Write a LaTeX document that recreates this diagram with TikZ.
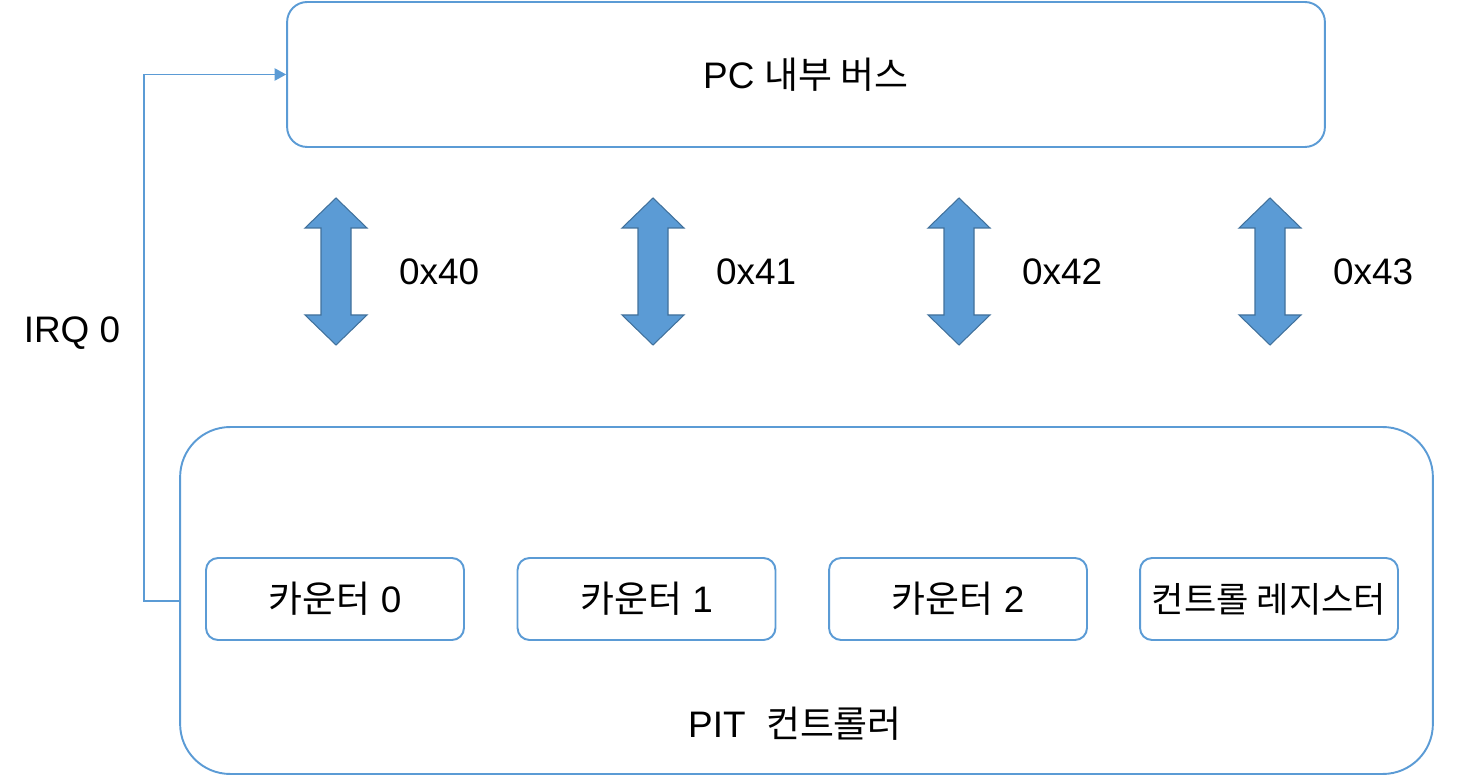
\documentclass[tikz,border=0pt]{standalone}
\usepackage{fontspec}
\setmainfont{Liberation Sans}
\newfontfamily\kr{Noto Sans CJK KR}
\usetikzlibrary{arrows.meta}
\definecolor{boxblue}{HTML}{5B9BD5}
\definecolor{edgeblue}{HTML}{41719C}

\tikzset{
  busbox/.style={draw=boxblue, line width=1.1pt, rounded corners=0.4cm, minimum width=20.76cm, minimum height=2.9cm},
  pitbox/.style={draw=boxblue, line width=1.1pt, rounded corners=1cm, minimum width=25.06cm, minimum height=6.94cm},
  cntbox/.style={draw=boxblue, line width=1.1pt, rounded corners=0.24cm, minimum width=5.16cm, minimum height=1.64cm, font=\fontsize{21}{25}\selectfont},
  lbl/.style={font=\fontsize{21}{25}\selectfont},
  busarrow/.pic={
    \filldraw[fill=boxblue, draw=edgeblue, line width=0.6pt, line join=miter]
      (0,-73.5) -- (31,-43.5) -- (15,-43.5) -- (15,43.5) -- (31,43.5) -- (0,73.5)
      -- (-31,43.5) -- (-15,43.5) -- (-15,-43.5) -- (-31,-43.5) -- cycle;
  }
}

\begin{document}
\begin{tikzpicture}[x=0.02cm, y=-0.02cm]
\useasboundingbox (0,0) rectangle (1480,776);

% bus and controller
\node[busbox, lbl] (bus) at (806,74.5) {PC {\kr 내부 버스}};
\node[pitbox] (pit) at (806.5,600.5) {};
\node[lbl] (pitname) at (795,724) {PIT\ \ {\kr 컨트롤러}};

% counters
\node[cntbox] (cnt0) at (335,599) {{\kr 카운터} 0};
\node[cntbox] (cnt1) at (646.5,599) {{\kr 카운터} 1};
\node[cntbox] (cnt2) at (958,599) {{\kr 카운터} 2};
\node[cntbox, font=\fontsize{20}{24}\selectfont\kr] (ctrl) at (1269,599) {컨트롤 레지스터};

% port arrows
\foreach \x/\port in {336/40, 653/41, 959/42, 1270/43} {
  \pic at (\x,271.5) {busarrow};
  \node[lbl, anchor=west] at (\x+57,272) {0x\port};
}

% interrupt line
\coordinate (irqbend) at (144,601);
\node[lbl] (irq) at (72,333) {IRQ 0};
\draw[boxblue, line width=0.6pt, -{Triangle[length=6.5pt,width=7pt]}]
  (pit.west |- irqbend) -- (irqbend) |- (bus.west);

\end{tikzpicture}
\end{document}
